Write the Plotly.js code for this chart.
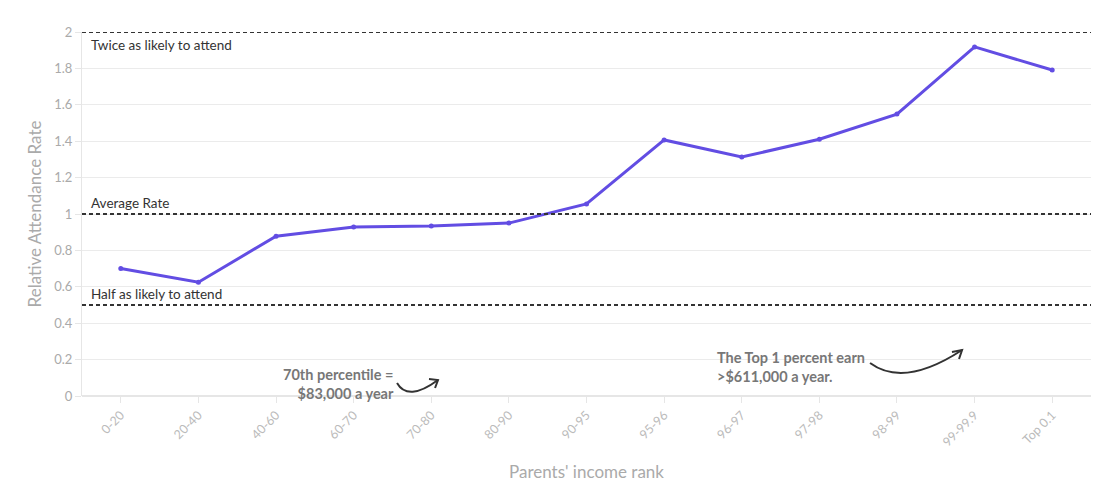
<!DOCTYPE html>
<html>
<head>
<meta charset="utf-8">
<script src="https://cdn.plot.ly/plotly-3.0.1.min.js"></script>
<style>html,body{margin:0;padding:0;background:#fff;}#chart{width:1120px;height:494px;}</style>
</head>
<body>
<div id="chart"></div>
<script>
const categories = ["0-20","20-40","40-60","60-70","70-80","80-90","90-95","95-96","96-97","97-98","98-99","99-99.9","Top 0.1"];
const attendanceRate = [0.70, 0.625, 0.878, 0.928, 0.934, 0.950, 1.055, 1.407, 1.313, 1.411, 1.549, 1.918, 1.791];
const referenceLevels = [2, 1, 0.5];
const referenceLabels = ["Twice as likely to attend", "Average Rate", "Half as likely to attend"];
const yTicks = [0, 0.2, 0.4, 0.6, 0.8, 1, 1.2, 1.4, 1.6, 1.8, 2];

const W = 1120, H = 494, L = 82, R = 29, T = 32, B = 98;
const pw = W - L - R, ph = H - T - B;
const px = x => (x - L) / pw;
const py = y => (H - B - y) / ph;
const P = (x, y) => px(x).toFixed(4) + "," + py(y).toFixed(4);

const font = "Source Sans Pro, Lato, sans-serif";

const shapes = referenceLevels.map(v => ({
  type: "line", xref: "paper", x0: 0, x1: 1, yref: "y", y0: v, y1: v,
  line: {color: "#333", width: 2, dash: "4px,3px"}, layer: "above"
}));
const arrowStyle = {color: "#333", width: 2};
shapes.push({type: "path", xref: "paper", yref: "paper",
  path: "M" + P(397, 383) + " Q" + P(408, 402) + " " + P(438, 380), line: arrowStyle});
shapes.push({type: "path", xref: "paper", yref: "paper",
  path: "M" + P(429, 379) + " L" + P(438, 380) + " L" + P(435, 388), line: arrowStyle});
shapes.push({type: "path", xref: "paper", yref: "paper",
  path: "M" + P(870, 363) + " Q" + P(904, 388) + " " + P(962, 350), line: arrowStyle});
shapes.push({type: "path", xref: "paper", yref: "paper",
  path: "M" + P(952, 352) + " L" + P(962, 350) + " L" + P(959, 359), line: arrowStyle});

const labelFont = {size: 13.5, color: "#333", family: font};
const noteFont = {size: 14.5, color: "#777", family: font};
const annotations = [
  {text: referenceLabels[0], xref: "paper", x: 0, xshift: 7, xanchor: "left", yref: "y", y: referenceLevels[0], yanchor: "top", yshift: -3, showarrow: false, font: labelFont},
  {text: referenceLabels[1], xref: "paper", x: 0, xshift: 7, xanchor: "left", yref: "y", y: referenceLevels[1], yanchor: "bottom", yshift: 1, showarrow: false, font: labelFont},
  {text: referenceLabels[2], xref: "paper", x: 0, xshift: 7, xanchor: "left", yref: "y", y: referenceLevels[2], yanchor: "bottom", yshift: 1, showarrow: false, font: labelFont},
  {text: "<b>70th percentile =</b><br><b>$83,000 a year</b>", xref: "paper", x: px(396), xanchor: "right", align: "right", yref: "paper", y: py(384), yanchor: "middle", showarrow: false, font: noteFont},
  {text: "<b>The Top 1 percent earn</b><br><b>>$611,000 a year.</b>", xref: "paper", x: px(715), xanchor: "left", align: "left", yref: "paper", y: py(367), yanchor: "middle", showarrow: false, font: noteFont}
];

const trace = {
  x: categories, y: attendanceRate, type: "scatter", mode: "lines+markers",
  line: {color: "#624de3", width: 3},
  marker: {color: "#624de3", size: 5},
  hoverinfo: "x+y"
};

const layout = {
  width: W, height: H,
  margin: {l: L, r: R, t: T, b: B},
  paper_bgcolor: "#fff", plot_bgcolor: "#fff",
  showlegend: false,
  font: {family: font, color: "#aaa"},
  xaxis: {
    type: "category", range: [-0.5, 12.5], tickangle: -45,
    tickfont: {size: 12.5, color: "#bbb", family: font},
    ticks: "outside", ticklen: 6, tickcolor: "#e6e6e6",
    showgrid: false, showline: false, zeroline: false,
    title: {text: "Parents' income rank", font: {size: 17, color: "#aaa", family: font}, standoff: 17}
  },
  yaxis: {
    range: [0, 2], tickvals: yTicks, ticktext: yTicks.map(String),
    tickfont: {size: 13, color: "#aaa", family: font},
    ticks: "outside", ticklen: 6, tickcolor: "#e6e6e6",
    showgrid: true, gridcolor: "#ebebeb", gridwidth: 1,
    showline: true, linecolor: "#e6e6e6", linewidth: 1,
    zeroline: true, zerolinecolor: "#e6e6e6", zerolinewidth: 2,
    title: {text: "Relative Attendance Rate", font: {size: 17, color: "#aaa", family: font}, standoff: 8}
  },
  shapes: shapes,
  annotations: annotations
};

Plotly.newPlot("chart", [trace], layout, {displayModeBar: false, staticPlot: true});
</script>
</body>
</html>
